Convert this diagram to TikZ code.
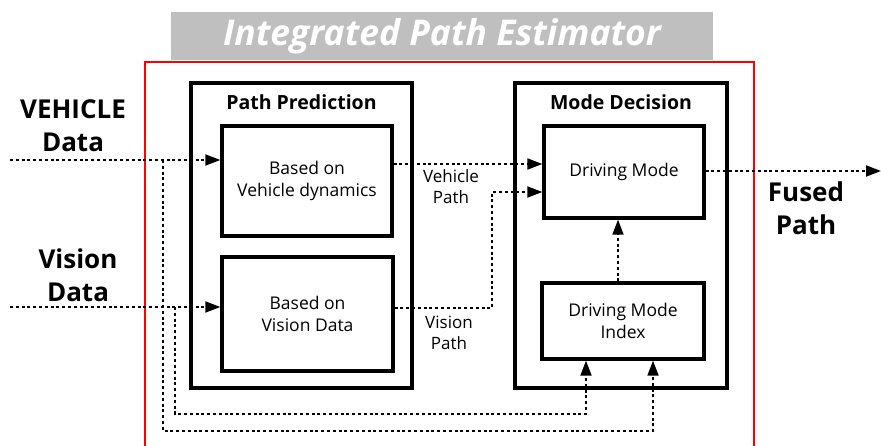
\documentclass[tikz,border=0pt]{standalone}
\usepackage{fontspec}
\setmainfont{Open Sans}
\usetikzlibrary{arrows.meta}
\definecolor{titlegray}{RGB}{191,191,191}
\definecolor{framered}{RGB}{255,0,0}
\tikzset{
  box/.style={draw=black, line width=3.3pt, rectangle, inner sep=0pt, align=center, font=\fontsize{17.5}{22}\selectfont},
  flow/.style={line width=1.8pt, dash pattern=on 3pt off 2.8pt},
  tip/.style={-{Triangle[length=15pt,width=11pt]}},
  sidelabel/.style={align=center, font=\fontsize{26}{33}\selectfont\bfseries},
  pathlabel/.style={align=center, font=\fontsize{17}{21}\selectfont},
  header/.style={font=\fontsize{19.5}{22}\selectfont\bfseries}
}
\begin{document}
\begin{tikzpicture}[x=1pt, y=-1pt]
\useasboundingbox (0,0) rectangle (881,446);

% title banner
\node[fill=titlegray, minimum width=542pt, minimum height=48pt, inner sep=0pt,
      text=white, font=\fontsize{35.5}{38}\selectfont\bfseries\itshape] (title) at (442,36) {Integrated Path Estimator};

% red frame of the estimator
\draw[framered, line width=2.6pt] (145,452) -- (145,62) -- (754,62) -- (754,452);

% outer blocks
\node[box, minimum width=221pt, minimum height=305pt] (pp) at (301.5,235.5) {};
\node[header] (pphead) at (301.5,102) {Path Prediction};
\node[box, minimum width=212pt, minimum height=305pt] (md) at (621,235.5) {};
\node[header] (mdhead) at (621,102) {Mode Decision};

% inner blocks
\node[box, minimum width=170pt, minimum height=110pt] (vd) at (307,181) {Based on\\Vehicle dynamics};
\node[box, minimum width=171pt, minimum height=114pt] (vis) at (307.5,314) {Based on\\Vision Data};
\node[box, minimum width=160pt, minimum height=92pt] (dm) at (624,172) {Driving Mode};
\node[box, minimum width=162pt, minimum height=76pt] (dmi) at (623,321) {Driving Mode\\Index};

% side labels
\node[sidelabel] (vehlabel) at (73,126) {VEHICLE\\Data};
\node[sidelabel] (vislabel) at (78,275) {Vision\\Data};
\node[sidelabel] (fusedlabel) at (806,208) {Fused\\Path};
\node[pathlabel] (vplabel) at (451,187) {Vehicle\\Path};
\node[pathlabel] (visplabel) at (449,333) {Vision\\Path};

% helper coordinates
\coordinate (vin) at (10,160);
\coordinate (vbranch) at (163,160);
\coordinate (vlow) at (653,431);
\coordinate (sin) at (10,307);
\coordinate (sbranch) at (175,307);
\coordinate (slow) at (586,414);
\coordinate (vpy) at (0,164);
\coordinate (spy) at (0,308);
\coordinate (sbend) at (492,192);
\coordinate (outy) at (0,171);
\coordinate (out) at (881,171);

% inputs
\draw[flow, tip] (vin) -- (vd.west |- vin);
\draw[flow, tip] (sin) -- (vis.west |- sin);
\draw[flow, tip] (vbranch) |- (vlow) -- (dmi.south -| vlow);
\draw[flow, tip] (sbranch) |- (slow) -- (dmi.south -| slow);

% predicted paths to the mode decision
\draw[flow, tip] (vd.east |- vpy) -- (dm.west |- vpy);
\draw[flow, tip] (vis.east |- spy) -| (sbend) -- (dm.west |- sbend);

% mode index to driving mode
\draw[flow, tip] (dmi.north -| 618,0) -- (dm.south -| 618,0);

% fused output
\draw[flow, tip] (dm.east |- outy) -- (out);
\end{tikzpicture}
\end{document}
